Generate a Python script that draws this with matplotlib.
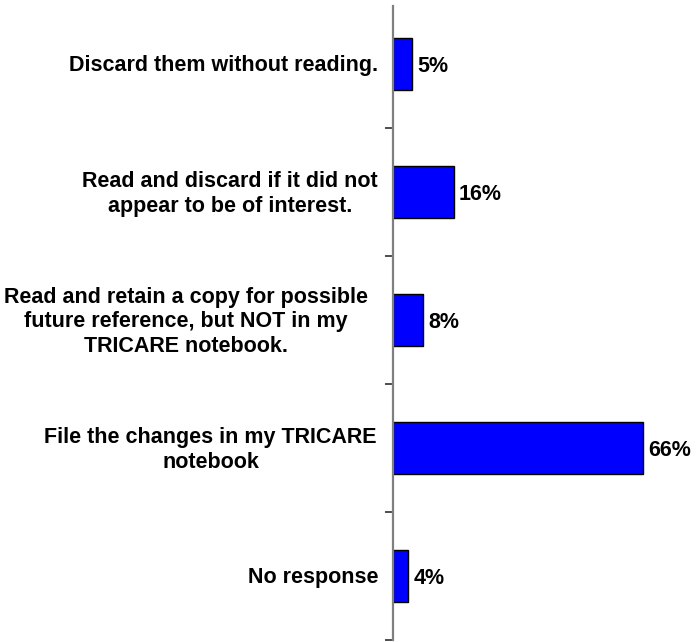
import matplotlib
matplotlib.use("Agg")
import matplotlib.pyplot as plt
import matplotlib.transforms as mtransforms
import numpy as np

categories = [
    "Discard them without reading.",
    "Read and discard if it did not\nappear to be of interest.",
    "Read and retain a copy for possible\nfuture reference, but NOT in my\nTRICARE notebook.",
    "File the changes in my TRICARE\nnotebook",
    "No response",
]
values = [5, 16, 8, 66, 4]
value_labels = ["5%", "16%", "8%", "66%", "4%"]

plt.rcParams["font.family"] = ["Liberation Sans", "DejaVu Sans"]

W, H = 700, 642
fig = plt.figure(figsize=(W / 100, H / 100), dpi=100)
x0, y_top, y_bot = 393, 6, 640
ax = fig.add_axes([x0 / W, (H - y_bot) / H, (W - x0) / W, (y_bot - y_top) / H])

pos = np.arange(len(categories))
ax.barh(pos, values, height=0.41, color="#0000FF", edgecolor="black", linewidth=1.0)

val_tr = mtransforms.offset_copy(ax.transData, fig=fig, x=0, y=-3, units="dots")
for p, v, lab in zip(pos, values, value_labels):
    ax.text(v + 1.4, p, lab, transform=val_tr, va="center", ha="left",
            fontsize=15.5, fontweight="bold", clip_on=False)

# category labels, right edge a little left of the axis (the long one sits further in)
label_gap_px = [15, 15, 25, 16, 15]
for p, lab, gap in zip(pos, categories, label_gap_px):
    tr = mtransforms.offset_copy(ax.get_yaxis_transform(), fig=fig, x=-gap, y=-2, units="dots")
    ax.text(0, p, lab, transform=tr, ha="right", va="center", multialignment="center",
            fontsize=15.5, fontweight="bold", linespacing=1.25, clip_on=False)

# tick marks sit on the category boundaries
ax.set_yticks(pos + 0.5)
ax.set_yticklabels([])
ax.tick_params(axis="y", which="major", length=6, width=1.2, color="#303030", direction="out")

ax.set_xlim(0, (W - x0) / 3.79)
ax.set_ylim(len(categories) - 0.5, -0.5 + y_top / 128)

for s in ["top", "right", "bottom"]:
    ax.spines[s].set_visible(False)
ax.spines["left"].set_color("#808080")
ax.spines["left"].set_linewidth(1.6)
ax.set_xticks([])

fig.savefig("out.png", dpi=100)
